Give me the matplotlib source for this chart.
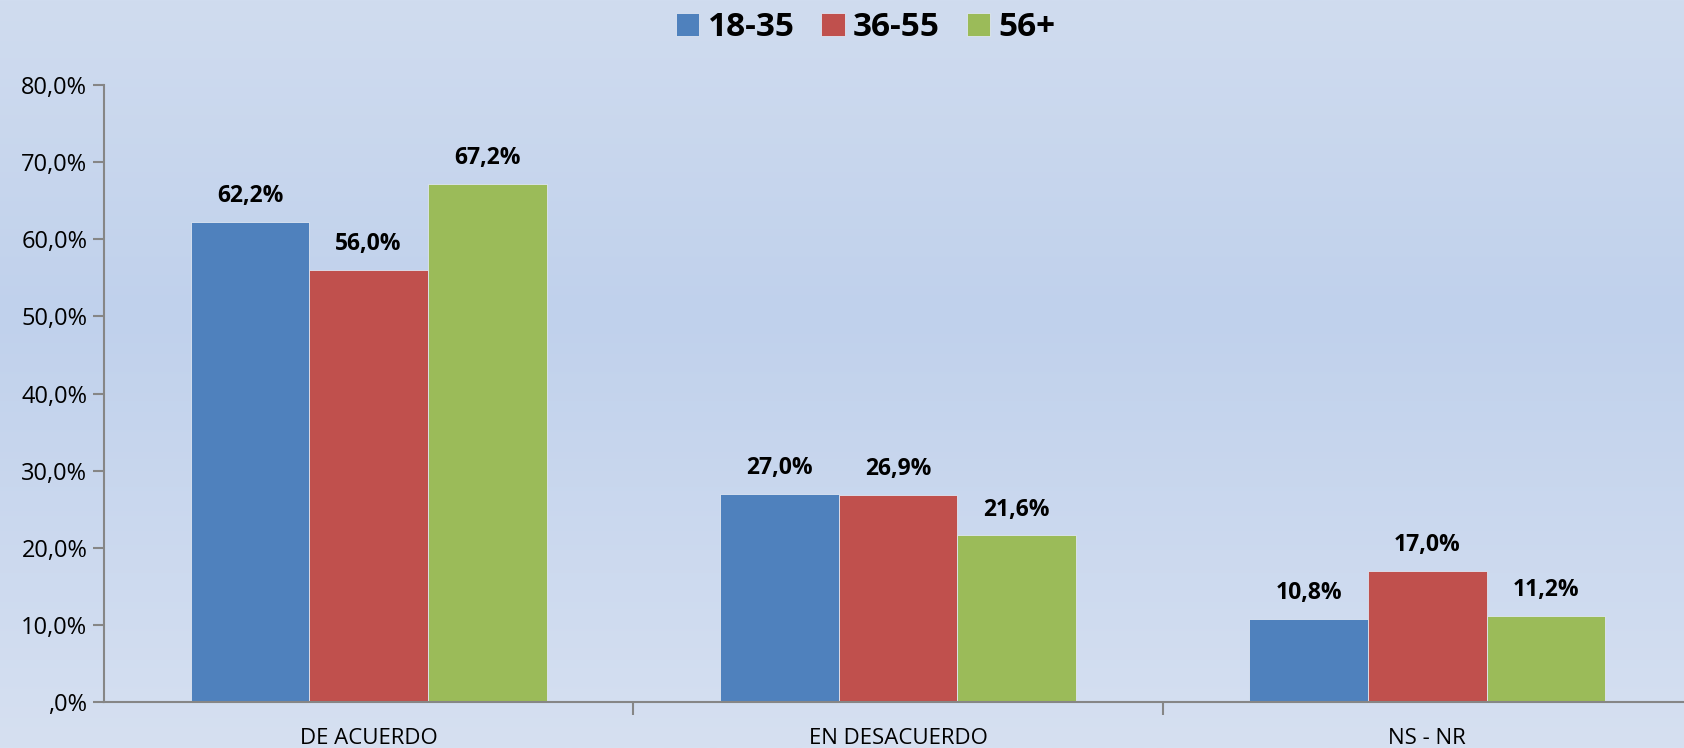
import numpy as np
import matplotlib.pyplot as plt

categories = ['DE ACUERDO', 'EN DESACUERDO', 'NS - NR']
groups = ['18-35', '36-55', '56+']
v_18_35 = [62.2, 27.0, 10.8]
v_36_55 = [56.0, 26.9, 17.0]
v_56 = [67.2, 21.6, 11.2]
yticks = [0, 10, 20, 30, 40, 50, 60, 70, 80]
ytick_labels = [',0%', '10,0%', '20,0%', '30,0%', '40,0%', '50,0%', '60,0%', '70,0%', '80,0%']

colors = ['#4f81bd', '#c0504d', '#9bbb59']

plt.rcParams['font.family'] = ['Open Sans', 'DejaVu Sans']

fig = plt.figure(figsize=(16.84, 7.48), dpi=100)

# background gradient
bg = fig.add_axes([0, 0, 1, 1], zorder=-10)
top = np.array([208, 220, 239]) / 255
mid = np.array([192, 209, 236]) / 255
bot = np.array([214, 224, 241]) / 255
t = np.linspace(0, 1, 256)[:, None]
grad = np.where(t < 0.42, top + (mid - top) * (t / 0.42), mid + (bot - mid) * ((t - 0.42) / 0.58))
bg.imshow(grad[:, None, :], aspect='auto', extent=[0, 1, 0, 1])
bg.axis('off')

ax = fig.add_axes([104 / 1684, 1 - 702 / 748, (1692 - 104) / 1684, (702 - 85) / 748])
ax.patch.set_alpha(0)

x = np.arange(len(categories))
w = 0.224
series = [v_18_35, v_36_55, v_56]
for i, vals in enumerate(series):
    pos = x + (i - 1) * w
    ax.bar(pos, vals, width=w, color=colors[i], edgecolor='#dfe6f2', linewidth=0.6, label=groups[i])
    for p, v in zip(pos, vals):
        ax.text(p, v + 1.8, f'{v:.1f}%'.replace('.', ','), ha='center', va='bottom',
                fontsize=16.5, fontweight='bold', color='black')

ax.set_xlim(-0.5, 2.5)
ax.set_ylim(0, 80)
ax.set_yticks(yticks)
ax.set_yticklabels(ytick_labels, fontsize=17)
ax.tick_params(axis='y', length=8, width=1.5, color='#868686', pad=4)

ax.set_xticks([0.5, 1.5])
ax.set_xticklabels([])
ax.tick_params(axis='x', which='major', length=9, width=1.5, color='#868686')
ax.set_xticks(x, minor=True)
ax.set_xticklabels(categories, minor=True, fontsize=16)
ax.tick_params(axis='x', which='minor', length=0, pad=19)

for s in ['top', 'right']:
    ax.spines[s].set_visible(False)
for s in ['left', 'bottom']:
    ax.spines[s].set_color('#868686')
    ax.spines[s].set_linewidth(1.5)

fig.legend(loc='upper center', bbox_to_anchor=(0.514, 1.025), ncol=3, frameon=False,
           prop={'size': 24, 'weight': 'bold'}, handlelength=0.7, handleheight=0.7,
           handletextpad=0.25, columnspacing=0.8)

fig.savefig('out.png', dpi=100)
